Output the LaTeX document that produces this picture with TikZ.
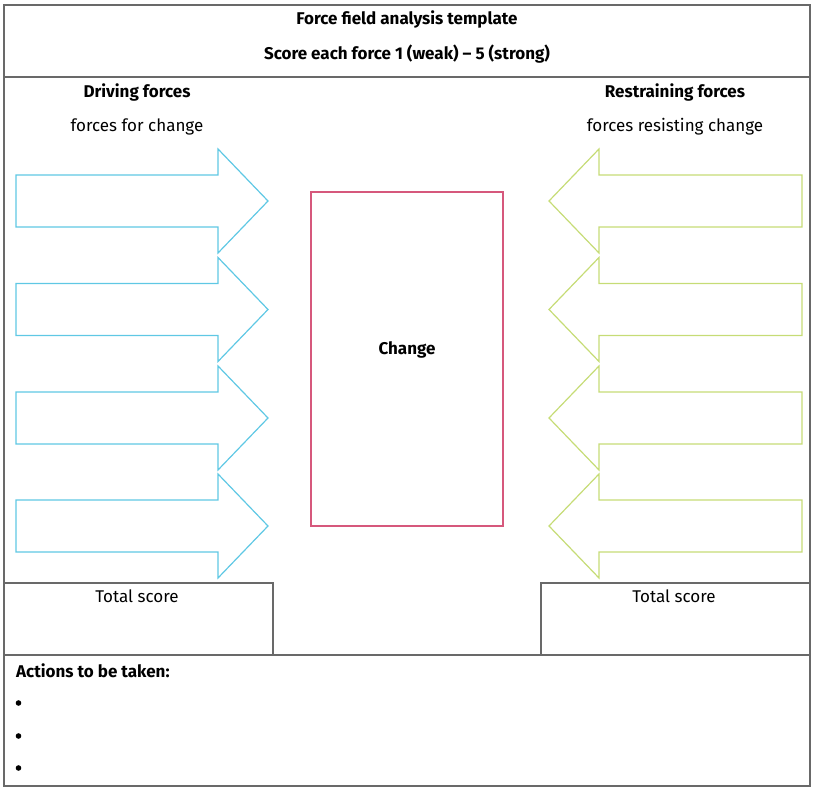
\documentclass[tikz,border=0pt]{standalone}
\usepackage{fontspec}
\setmainfont{Fira Sans}
\definecolor{framegray}{RGB}{105,105,105}
\definecolor{driveblue}{RGB}{95,200,228}
\definecolor{restraingreen}{RGB}{198,220,118}
\definecolor{changepink}{RGB}{214,88,124}

\begin{document}
\begin{tikzpicture}[x=1pt, y=-1pt, every node/.style={inner sep=0pt, font=\fontsize{17}{20}\selectfont}]
  \useasboundingbox (0,0) rectangle (815,791);
  % frame and sections
  \draw[color=framegray, line width=1.3pt] (4,5) rectangle (810,786);
  \draw[color=framegray, line width=1.3pt] (4,77) -- (810,77);
  \draw[color=framegray, line width=1.3pt] (4,655) -- (810,655);
  \draw[color=framegray, line width=1.3pt] (4,583) -- (273,583) -- (273,655);
  \draw[color=framegray, line width=1.3pt] (810,583) -- (541,583) -- (541,655);
  \node (title) at (407, 19) {\bfseries Force field analysis template};
  \node (score) at (407, 54) {\bfseries Score each force 1 (weak) -- 5 (strong)};

  % forces
  \node (driving) at (137, 92) {\bfseries Driving forces};
  \node (forchange) at (137, 127) {forces for change};
  \node (restraining) at (675, 92) {\bfseries Restraining forces};
  \node (resisting) at (675, 127) {forces resisting change};
  \foreach \y in {201,309.5,418,526}
  {
  \draw[color=driveblue, line width=1.2pt] (16,\y-26) -- (218,\y-26) -- (218,\y-52) -- (268,\y) -- (218,\y+52) -- (218,\y+26) -- (16,\y+26) -- cycle;
  \draw[color=restraingreen, line width=1.2pt] (802,\y-26) -- (599,\y-26) -- (599,\y-52) -- (549,\y) -- (599,\y+52) -- (599,\y+26) -- (802,\y+26) -- cycle;
  }
  \draw[color=changepink, line width=1.6pt] (311,192) rectangle (503,526);
  \node (change) at (407, 350) {\bfseries Change};

  % totals and actions
  \node (lefttotal) at (137, 596) {Total score};
  \node (righttotal) at (674, 596) {Total score};
  \node[anchor=west] (actions) at (16, 671) {\bfseries Actions to be taken:};
  \foreach \y in {703,736,768}
  \fill (18.5,\y) circle (2.8);
\end{tikzpicture}
\end{document}
